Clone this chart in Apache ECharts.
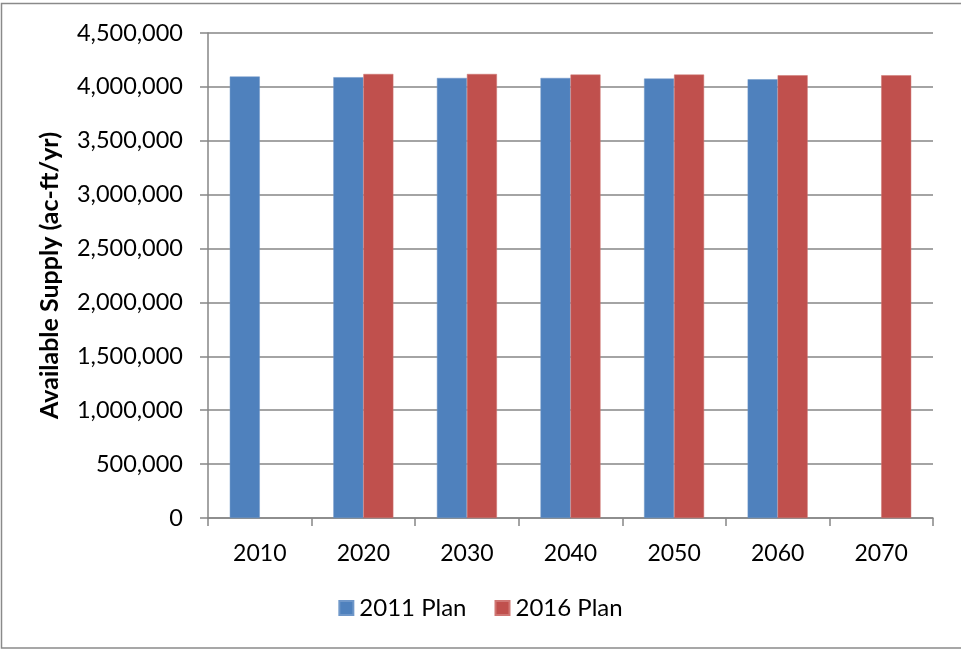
<!DOCTYPE html>
<html>
<head>
<meta charset="utf-8">
<script src="https://cdn.jsdelivr.net/npm/echarts@6/dist/echarts.min.js"></script>
<style>
  html, body { margin: 0; padding: 0; background: #fff; }
  #chart { width: 961px; height: 649px; }
</style>
</head>
<body>
<div id="chart"></div>
<script>
// Planning decades on the category axis
const years = ['2010', '2020', '2030', '2040', '2050', '2060', '2070'];

// Available supply (ac-ft/yr) by plan; null where a plan has no value for that decade
const plan2011 = [4096000, 4090000, 4083000, 4083000, 4077000, 4071000, null];
const plan2016 = [null, 4120000, 4120000, 4114000, 4114000, 4108000, 4108000];

const seriesNames = ['2011 Plan', '2016 Plan'];
const yTicks = { min: 0, max: 4500000, interval: 500000 };

const FONT = 'Lato, "Open Sans", sans-serif';
const chart = echarts.init(document.getElementById('chart'), null, { renderer: 'canvas' });

chart.setOption({
  animation: false,
  backgroundColor: '#ffffff',
  textStyle: { fontFamily: FONT },
  grid: { left: 208, right: 28, top: 33, bottom: 131, containLabel: false },
  legend: {
    data: seriesNames,
    bottom: 24,
    left: 'center',
    itemWidth: 14,
    itemHeight: 14,
    itemGap: 28,
    icon: 'rect',
    textStyle: { fontFamily: FONT, fontSize: 24, color: '#000', padding: [0, 0, 0, 1] }
  },
  xAxis: {
    type: 'category',
    data: years,
    axisLine: { lineStyle: { color: '#868686', width: 1.5 } },
    axisTick: { show: true, length: 8, lineStyle: { color: '#868686', width: 1.5 } },
    axisLabel: { fontFamily: FONT, fontSize: 23, color: '#000', margin: 24 },
    splitLine: { show: false }
  },
  yAxis: {
    type: 'value',
    min: yTicks.min,
    max: yTicks.max,
    interval: yTicks.interval,
    name: 'Available Supply (ac-ft/yr)',
    nameLocation: 'middle',
    nameGap: 146,
    nameTextStyle: { fontFamily: FONT, fontSize: 25, fontWeight: 'bold', color: '#000' },
    axisLine: { show: true, lineStyle: { color: '#868686', width: 1.5 } },
    axisTick: { show: true, length: 8, lineStyle: { color: '#868686', width: 1.5 } },
    axisLabel: {
      fontFamily: FONT, fontSize: 23.5, color: '#000', margin: 25,
      formatter: v => v.toLocaleString('en-US')
    },
    splitLine: { show: true, lineStyle: { color: '#868686', width: 1.5 } }
  },
  series: [
    {
      name: seriesNames[0],
      type: 'bar',
      data: plan2011,
      barWidth: 30,
      barGap: '0%',
      itemStyle: { color: '#4F81BD', borderColor: '#6f97c9', borderWidth: 0.5 }
    },
    {
      name: seriesNames[1],
      type: 'bar',
      data: plan2016,
      barWidth: 30,
      barGap: '0%',
      itemStyle: { color: '#C0504D', borderColor: '#cf7673', borderWidth: 0.5 }
    }
  ],
  graphic: [
    // outer chart frame (left, top, bottom edges)
    { type: 'polyline', silent: true,
      shape: { points: [[970, 3.5], [1.5, 3.5], [1.5, 648], [970, 648]] },
      style: { fill: null, stroke: '#8a8a8a', lineWidth: 1.5 } }
  ]
});
</script>
</body>
</html>
